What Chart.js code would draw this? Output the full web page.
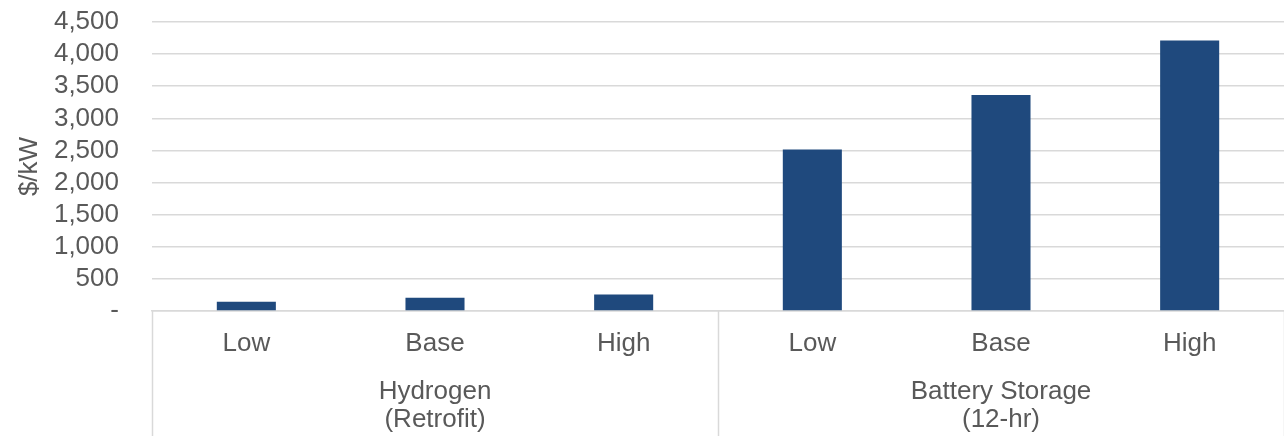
<!DOCTYPE html>
<html>
<head>
<meta charset="utf-8">
<script src="https://cdn.jsdelivr.net/npm/chart.js@4/dist/chart.umd.min.js"></script>
<style>
  html, body { margin: 0; padding: 0; background: #ffffff; }
  #wrap { width: 1284px; height: 436px; }
</style>
</head>
<body>
<div id="wrap"><canvas id="c" width="1284" height="436"></canvas></div>
<script>
// Scenario labels along the axis, and the technology groups they sit under
const categories = ['Low', 'Base', 'High', 'Low', 'Base', 'High'];
const groupLabels = [['Hydrogen', '(Retrofit)'], ['Battery Storage', '(12-hr)']];
const groupSizes = [3, 3];

// Capital cost, $/kW
const costValues = [145, 205, 255, 2515, 3365, 4210];

// Value axis
const yMin = 0;
const yMax = 4500;
const yStep = 500;
const yTitle = '$/kW';

const FONT = "'Liberation Sans', Arial, sans-serif";
const TEXT = '#595959';
const GRID = '#d9d9d9';

// Draws the group captions and the group dividers beneath the category axis
const groupAxis = {
  id: 'groupAxis',
  afterDraw(chart) {
    const x = chart.scales.x;
    const ctx = chart.ctx;
    const n = categories.length;
    const band = (x.getPixelForValue(n - 1) - x.getPixelForValue(0)) / (n - 1);
    ctx.save();
    ctx.strokeStyle = GRID;
    ctx.lineWidth = 1.5;
    let start = 0;
    const edges = [start];
    groupSizes.forEach(s => { start += s; edges.push(start); });
    edges.forEach(i => {
      const px = Math.round(x.getPixelForValue(i) - band / 2) + 0.5;
      ctx.beginPath();
      ctx.moveTo(px, x.top);
      ctx.lineTo(px, chart.height);
      ctx.stroke();
    });
    ctx.fillStyle = TEXT;
    ctx.font = '26px ' + FONT;
    ctx.textAlign = 'center';
    ctx.textBaseline = 'middle';
    let first = 0;
    groupSizes.forEach((s, g) => {
      const cx = (x.getPixelForValue(first) + x.getPixelForValue(first + s - 1)) / 2;
      groupLabels[g].forEach((line, k) => {
        ctx.fillText(line, cx, x.top + 81 + k * 28);
      });
      first += s;
    });
    ctx.restore();
  }
};

new Chart(document.getElementById('c'), {
  type: 'bar',
  data: {
    labels: categories,
    datasets: [{
      data: costValues,
      backgroundColor: '#1f497d',
      borderWidth: 0,
      barPercentage: 0.313,
      categoryPercentage: 1.0
    }]
  },
  options: {
    responsive: false,
    animation: false,
    devicePixelRatio: 1,
    layout: { padding: { top: 22, right: 0, bottom: 0, left: 0 } },
    plugins: {
      legend: { display: false },
      tooltip: { enabled: false }
    },
    scales: {
      x: {
        grid: { display: false, drawTicks: false },
        border: { display: true, color: GRID, width: 1.5 },
        ticks: {
          color: TEXT,
          font: { family: FONT, size: 26 },
          padding: 17,
          maxRotation: 0,
          autoSkip: false
        },
        afterFit(scale) { scale.height = 125; }
      },
      y: {
        min: yMin,
        max: yMax,
        // invisible tick marks keep the labels clear of the plot
        grid: { color: GRID, lineWidth: 1.5, drawTicks: true, tickLength: 33, tickColor: 'rgba(0,0,0,0)' },
        border: { display: false },
        ticks: {
          stepSize: yStep,
          autoSkip: false,
          color: TEXT,
          font: { family: FONT, size: 26 },
          padding: 0,
          callback: v => v === 0 ? '-' : v.toLocaleString('en-US')
        },
        title: {
          display: true,
          text: yTitle,
          color: TEXT,
          font: { family: FONT, size: 26 },
          padding: { top: 14, bottom: 0 }
        },
        afterFit(scale) { scale.width = 152; }
      }
    }
  },
  plugins: [groupAxis]
});
</script>
</body>
</html>
